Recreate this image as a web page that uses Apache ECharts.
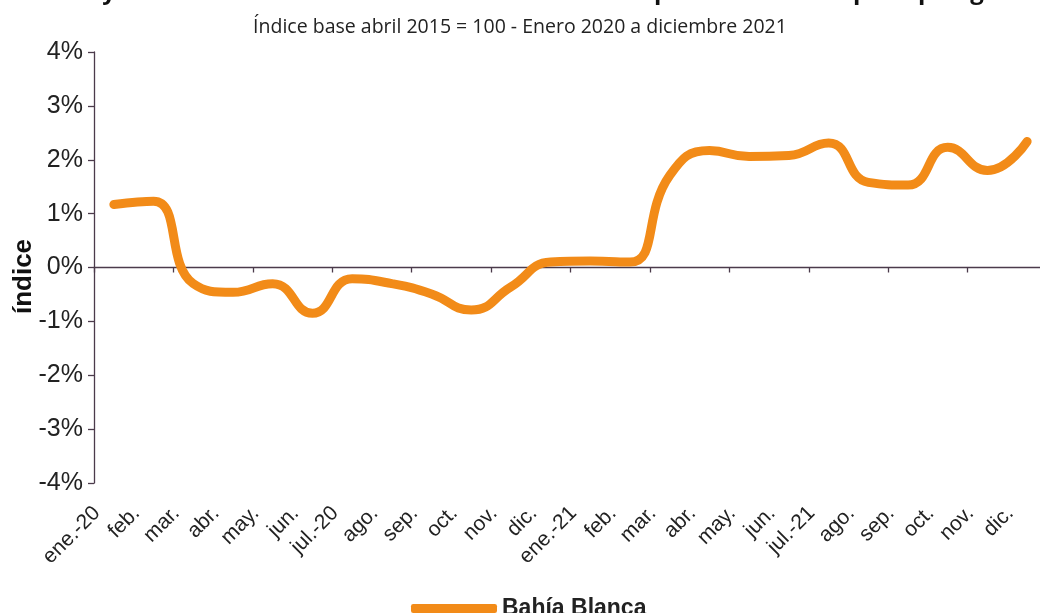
<!DOCTYPE html>
<html>
<head>
<meta charset="utf-8">
<script src="https://cdn.jsdelivr.net/npm/echarts@6/dist/echarts.min.js"></script>
<style>
  html, body { margin: 0; padding: 0; background: #fff; }
  #chart { width: 1040px; height: 613px; }
</style>
</head>
<body>
<div id="chart"></div>
<script>
// meses ene-20 .. dic-21
var months = ['ene.-20', 'feb.', 'mar.', 'abr.', 'may.', 'jun.', 'jul.-20', 'ago.', 'sep.', 'oct.', 'nov.', 'dic.',
  'ene.-21', 'feb.', 'mar.', 'abr.', 'may.', 'jun.', 'jul.-21', 'ago.', 'sep.', 'oct.', 'nov.', 'dic.']
// variacion (%)
var bahiaBlanca = [1.17, 1.23, -0.3, -0.46, -0.3, -0.85, -0.21, -0.3, -0.49, -0.79, -0.36, 0.1,
  0.12, 0.1, 1.71, 2.17, 2.06, 2.08, 2.31, 1.58, 1.53, 2.23, 1.8, 2.34]
var yTicks = [-4, -3, -2, -1, 0, 1, 2, 3, 4]

var axisColor = '#4b3b4b'
var orange = '#f28b18'
var sans = '"Liberation Sans Narrow", "Liberation Sans", sans-serif'

var chart = echarts.init(document.getElementById('chart'))

chart.setOption({
  animation: false,
  title: [
    {
      text: 'Trayectoria de la variación mensual del índice de precios de costo por tipología',
      left: 58,
      top: -25,
      textStyle: { fontFamily: '"Open Sans", sans-serif', fontWeight: 'bold', fontSize: 24, color: '#111' }
    },
    {
      text: 'Índice base abril 2015 = 100 - Enero 2020 a diciembre 2021',
      left: 'center',
      top: 12,
      textStyle: { fontFamily: '"Open Sans", sans-serif', fontWeight: 'normal', fontSize: 19.5, color: '#222' }
    }
  ],
  legend: {
    left: 406,
    top: 592,
    itemWidth: 86,
    itemHeight: 9,
    itemGap: 10,
    icon: 'roundRect',
    data: ['Bahía Blanca'],
    textStyle: { fontFamily: sans, fontWeight: 'bold', fontSize: 23, color: '#222' }
  },
  grid: { left: 94, top: 52, width: 953, height: 431, outerBoundsMode: 'none', containLabel: false },
  xAxis: [
    {
      type: 'category',
      data: months,
      boundaryGap: true,
      axisLine: { onZero: true, lineStyle: { color: axisColor, width: 1.3 } },
      axisTick: { show: true, length: 5, lineStyle: { color: axisColor, width: 1.3 } },
      axisLabel: { show: false }
    },
    {
      // solo etiquetas, abajo del grafico
      type: 'category',
      data: months,
      position: 'bottom',
      boundaryGap: true,
      axisLine: { show: false, onZero: false },
      axisTick: { show: false },
      axisLabel: {
        rotate: 45,
        margin: 10,
        interval: 0,
        padding: [0, 24, 0, 0],
        fontFamily: sans,
        fontSize: 21,
        color: '#222'
      }
    }
  ],
  yAxis: {
    type: 'value',
    min: yTicks[0],
    max: yTicks[yTicks.length - 1],
    interval: 1,
    name: 'índice',
    nameLocation: 'middle',
    nameGap: 57,
    nameMoveOverlap: false,
    nameTextStyle: { fontFamily: sans, fontWeight: 'bold', fontSize: 26, color: '#111', padding: [0, 18, 0, 0] },
    axisLine: { show: true, lineStyle: { color: axisColor, width: 1.3 } },
    axisTick: { show: true, length: 6, lineStyle: { color: axisColor, width: 1.3 } },
    splitLine: { show: false },
    axisLabel: {
      margin: 11,
      fontFamily: sans,
      fontSize: 25,
      color: '#222',
      formatter: function (v) { return v + '%' }
    }
  },
  series: [
    {
      name: 'Bahía Blanca',
      type: 'line',
      xAxisIndex: 0,
      data: bahiaBlanca,
      smooth: 0.5,
      symbol: 'none',
      itemStyle: { color: orange },
      lineStyle: { color: orange, width: 9, cap: 'round', join: 'round' }
    }
  ]
})
</script>
</body>
</html>
